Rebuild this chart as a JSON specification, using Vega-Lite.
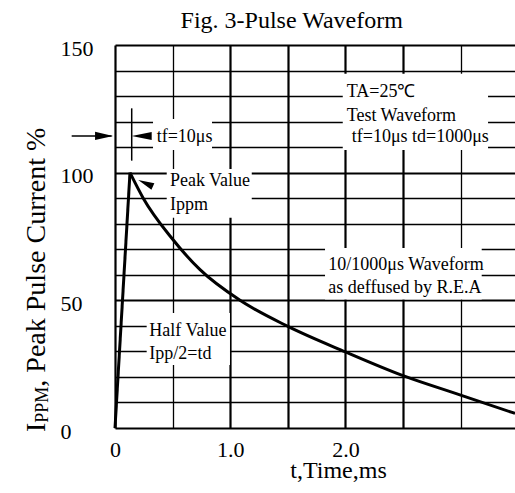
{
  "$schema": "https://vega.github.io/schema/vega-lite/v6.json",
  "width": 400,
  "height": 383,
  "autosize": {"type": "none"},
  "padding": {"left": 115, "top": 45, "right": 0, "bottom": 65},
  "background": "white",
  "config": {"view": {"stroke": null}, "font": "Liberation Serif"},
  "datasets": {
    "curve": [
      {"series": "rise", "t": 0, "v": 0},
      {"series": "rise", "t": 0.13, "v": 100},
      {"series": "decay", "t": 0.13, "v": 100},
      {"series": "decay", "t": 0.245, "v": 90},
      {"series": "decay", "t": 0.49, "v": 74.5},
      {"series": "decay", "t": 0.738, "v": 62},
      {"series": "decay", "t": 1.085, "v": 50},
      {"series": "decay", "t": 1.505, "v": 39.7},
      {"series": "decay", "t": 2.0, "v": 29.8},
      {"series": "decay", "t": 2.5, "v": 20.5},
      {"series": "decay", "t": 3.0, "v": 12.9},
      {"series": "decay", "t": 3.472, "v": 5.7}
    ],
    "boxes": [
      {"t": 1.977, "t2": 3.238, "v": 108.9, "v2": 138.7},
      {"t": 0.33, "t2": 0.842, "v": 108.9, "v2": 121.0},
      {"t": 0.449, "t2": 1.187, "v": 82.3, "v2": 101.4},
      {"t": 1.823, "t2": 3.183, "v": 50.3, "v2": 70.5},
      {"t": 0.275, "t2": 0.998, "v": 24.7, "v2": 45.0}
    ],
    "notes": [
      {"t": 0.362, "v": 114.1, "text": "tf=10μs"},
      {"t": 2.011, "v": 131.7, "text": "TA=25℃"},
      {"t": 2.011, "v": 122.2, "text": "Test Waveform"},
      {"t": 2.055, "v": 113.9, "text": "tf=10μs td=1000μs"},
      {"t": 0.477, "v": 96.9, "text": "Peak Value"},
      {"t": 0.477, "v": 87.3, "text": "Ippm"},
      {"t": 1.852, "v": 63.8, "text": "10/1000μs Waveform"},
      {"t": 1.852, "v": 54.7, "text": "as deffused by R.E.A"},
      {"t": 0.298, "v": 38.1, "text": "Half  Value"},
      {"t": 0.298, "v": 29.0, "text": "Ipp/2=td"}
    ],
    "title": [{"t": 1.534, "v": 156.6, "text": "Fig. 3-Pulse Waveform"}],
    "ytitleBig": [
      {"t": -0.608, "v": -1.57, "text": "I"},
      {"t": -0.608, "v": 16.2, "text": ", Peak Pulse Current %"}
    ],
    "ytitleSmall": [{"t": -0.584, "v": 2.08, "text": "PPM"}],
    "rules": [
      {"t": -0.376, "t2": -0.03, "v": 114.4, "v2": 114.4},
      {"t": 0.145, "t2": 0.145, "v": 104.7, "v2": 125.2}
    ],
    "headRight": [{"t": -0.017, "v": 114.4}],
    "headLeft": [{"t": 0.145, "v": 114.4}],
    "headPeak": [{"t": 0.202, "v": 97.1}]
  },
  "encoding": {
    "x": {
      "field": "t",
      "type": "quantitative",
      "scale": {"domain": [0, 3.472], "nice": false, "zero": false},
      "axis": {
        "values": [0, 0.5, 1, 1.5, 2, 2.5, 3],
        "grid": true,
        "gridColor": "black",
        "gridOpacity": 1,
        "gridWidth": {"condition": {"test": "datum.value == 0.5 || datum.value == 3", "value": 1.3}, "value": 2.2},
        "ticks": false,
        "tickSize": 0,
        "domain": false,
        "labelExpr": "datum.value == 0 ? '0' : datum.value == 1 ? '1.0' : datum.value == 2 ? '2.0' : ''",
        "labelFont": "Liberation Serif",
        "labelFontSize": 22,
        "labelColor": "black",
        "labelPadding": 11,
        "labelFlush": false,
        "labelOverlap": false,
        "title": "t,Time,ms",
        "titleFont": "Liberation Serif",
        "titleFontSize": 24,
        "titleFontWeight": "normal",
        "titleColor": "black",
        "titleX": 223,
        "titleY": 49,
        "titleBaseline": "alphabetic",
        "titleAlign": "center"
      }
    },
    "y": {
      "field": "v",
      "type": "quantitative",
      "scale": {"domain": [0, 150], "nice": false, "zero": false},
      "axis": {
        "values": [0, 10, 20, 30, 40, 50, 60, 70, 80, 90, 100, 110, 120, 130, 140, 150],
        "grid": true,
        "gridColor": "black",
        "gridOpacity": 1,
        "gridWidth": {"condition": {"test": "datum.value % 50 == 0", "value": 2.2}, "value": 1.5},
        "ticks": false,
        "tickSize": 0,
        "domain": false,
        "labelExpr": "datum.value % 50 == 0 ? datum.label : ''",
        "labelFont": "Liberation Serif",
        "labelFontSize": 22,
        "labelColor": "black",
        "labelAlign": "left",
        "labelBaseline": "middle",
        "labelPadding": 55,
        "labelOffset": 3,
        "labelFlush": false,
        "labelOverlap": false,
        "title": null
      }
    }
  },
  "layer": [
    {
      "data": {"name": "boxes"},
      "mark": {"type": "rect", "fill": "white", "strokeWidth": 0},
      "encoding": {"x2": {"field": "t2"}, "y2": {"field": "v2"}}
    },
    {
      "data": {"name": "curve"},
      "mark": {"type": "line", "color": "black", "strokeWidth": 3, "interpolate": "monotone"},
      "encoding": {"detail": {"field": "series"}}
    },
    {
      "data": {"name": "rules"},
      "mark": {"type": "rule", "color": "black", "strokeWidth": 1.5},
      "encoding": {"x2": {"field": "t2"}, "y2": {"field": "v2"}}
    },
    {
      "data": {"name": "headRight"},
      "mark": {"type": "point", "shape": "M0,0L-2,-0.45L-2,0.45Z", "size": 324, "filled": true, "color": "black", "opacity": 1, "strokeWidth": 0}
    },
    {
      "data": {"name": "headLeft"},
      "mark": {"type": "point", "shape": "M0,0L2,-0.4L2,0.4Z", "size": 400, "filled": true, "color": "black", "opacity": 1, "strokeWidth": 0}
    },
    {
      "data": {"name": "headPeak"},
      "mark": {"type": "point", "shape": "M0,0L2,-0.45L2,0.45Z", "size": 256, "angle": 24, "filled": true, "color": "black", "opacity": 1, "strokeWidth": 0}
    },
    {
      "data": {"name": "notes"},
      "mark": {"type": "text", "font": "Liberation Serif", "fontSize": 18, "align": "left", "baseline": "middle", "color": "black"},
      "encoding": {"text": {"field": "text"}}
    },
    {
      "data": {"name": "title"},
      "mark": {"type": "text", "font": "Liberation Serif", "fontSize": 24, "align": "center", "baseline": "alphabetic", "color": "black"},
      "encoding": {"text": {"field": "text"}}
    },
    {
      "data": {"name": "ytitleBig"},
      "mark": {"type": "text", "font": "Liberation Serif", "fontSize": 28, "angle": 270, "align": "left", "baseline": "alphabetic", "color": "black"},
      "encoding": {"text": {"field": "text"}}
    },
    {
      "data": {"name": "ytitleSmall"},
      "mark": {"type": "text", "font": "Liberation Serif", "fontSize": 18, "angle": 270, "align": "left", "baseline": "alphabetic", "color": "black"},
      "encoding": {"text": {"field": "text"}}
    }
  ]
}
